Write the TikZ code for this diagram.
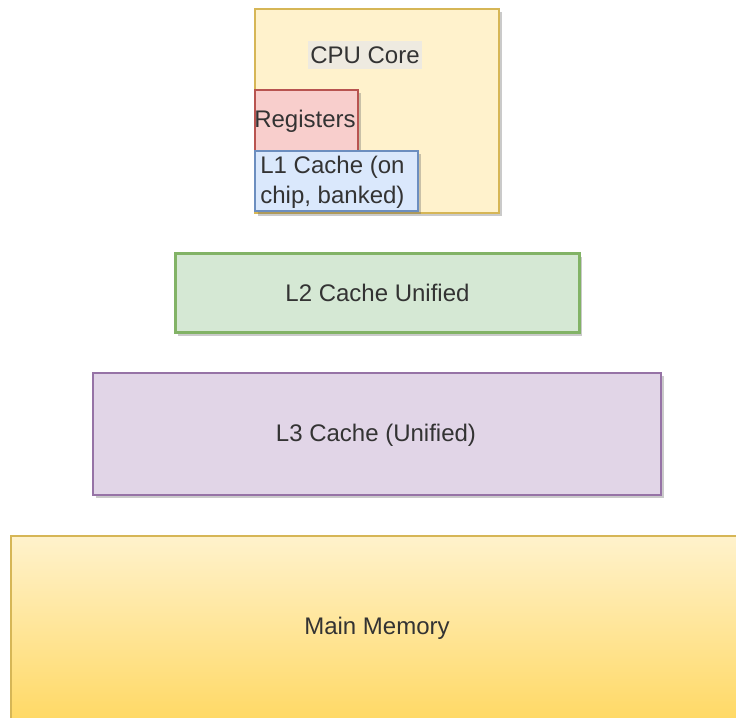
\documentclass[tikz,border=0pt]{standalone}
\usepackage{fontspec}
\setmainfont{Liberation Sans}
\usetikzlibrary{shadows}
\newlength\px
\setlength\px{0.5pt}
\definecolor{coreFill}{HTML}{FFF2CC}
\definecolor{coreLine}{HTML}{D6B656}
\definecolor{regFill}{HTML}{F8CECC}
\definecolor{regLine}{HTML}{B85450}
\definecolor{lOneFill}{HTML}{DAE8FC}
\definecolor{lOneLine}{HTML}{6C8EBF}
\definecolor{lTwoFill}{HTML}{D5E8D4}
\definecolor{lTwoLine}{HTML}{82B366}
\definecolor{lThreeFill}{HTML}{E1D5E7}
\definecolor{lThreeLine}{HTML}{9673A6}
\definecolor{memBottom}{HTML}{FFD966}
\definecolor{labelBg}{HTML}{EEEAE0}
\definecolor{txt}{HTML}{333333}

\begin{document}
\begin{tikzpicture}[x=0.5pt,y=-0.5pt,
  box/.style={draw, line width=1pt, inner sep=0pt, anchor=north west,
    font=\fontsize{12}{15}\selectfont, text=txt,
    drop shadow={shadow xshift=1.5pt, shadow yshift=-1.5pt, opacity=0.35, fill=black!60}},
  lbl/.style={inner sep=1pt, font=\fontsize{12}{15}\selectfont, text=txt}]
\useasboundingbox (0,0) rectangle (736,718);

%%% cpu core
\node[box, fill=coreFill, draw=coreLine, minimum width=244\px, minimum height=204\px] (core) at (254,8) {};
\node[lbl, fill=labelBg, minimum width=112\px, minimum height=28\px] (corelbl) at (365,55) {CPU Core};

% registers
\node[box, fill=regFill, draw=regLine, minimum width=103\px, minimum height=61\px, drop shadow={opacity=0}] (reg) at (254,89) {};
\node[lbl] (reglbl) at (305,121) {Registers};

% l1
\node[box, fill=lOneFill, draw=lOneLine, minimum width=163\px, minimum height=60\px] (lone) at (254,150) {};
\node[lbl, anchor=west, align=left] (lonelbl) at (258,182) {L1 Cache (on\\chip, banked)};

%%% l2
\node[box, fill=lTwoFill, draw=lTwoLine, line width=1.5pt, minimum width=404\px, minimum height=79\px] (ltwo) at (174,252) {};
\node[lbl] (ltwolbl) at (ltwo.center) {L2 Cache Unified};

%%% l3
\node[box, fill=lThreeFill, draw=lThreeLine, minimum width=568\px, minimum height=122\px] (lthree) at (92,372) {};
\node[lbl] (lthreelbl) at (376,435) {L3 Cache (Unified)};

%%% main memory
\node[box, top color=coreFill, bottom color=memBottom, draw=coreLine, minimum width=740\px, minimum height=183\px] (mem) at (10,535) {};
\node[lbl] (memlbl) at (377,628) {Main Memory};
\end{tikzpicture}
\end{document}
